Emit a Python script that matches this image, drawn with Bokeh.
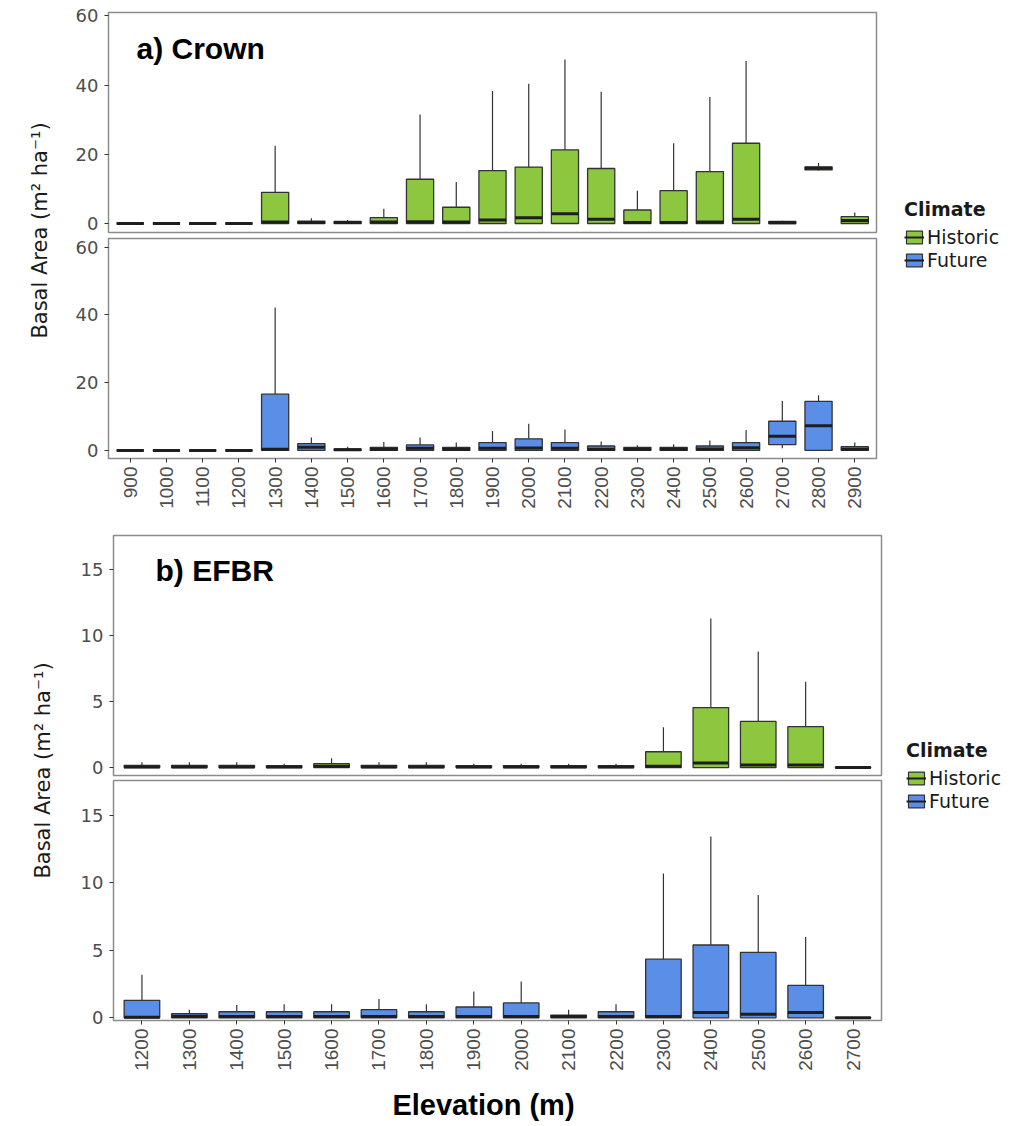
import math
from bokeh.plotting import figure
from bokeh.layouts import row, column
from bokeh.models import ColumnDataSource, Range1d, FixedTicker, Label, Legend, LegendItem
from bokeh.transform import dodge
from bokeh.embed import file_html
from bokeh.resources import INLINE

# ---------------- data ----------------
crown_elev = ["900", "1000", "1100", "1200", "1300", "1400", "1500", "1600", "1700", "1800", "1900",
              "2000", "2100", "2200", "2300", "2400", "2500", "2600", "2700", "2800", "2900"]
crown_hist_low = [0, 0, 0, 0, 0, 0, 0, 0, 0, 0, 0, 0, 0, 0, 0, 0, 0, 0, 0, 15.3, 0]
crown_hist_q1 = [0, 0, 0, 0, 0, 0, 0, 0, 0, 0, 0, 0, 0, 0, 0, 0, 0, 0, 0, 15.5, 0]
crown_hist_med = [0, 0, 0, 0, 0.4, 0.3, 0.3, 0.4, 0.5, 0.4, 1.0, 1.7, 2.8, 1.2, 0.3, 0.3, 0.4, 1.2, 0.2, 16.0, 0.9]
crown_hist_q3 = [0, 0, 0, 0, 9.0, 0.7, 0.6, 1.7, 12.8, 4.7, 15.3, 16.3, 21.3, 15.9, 3.9, 9.5, 15.0, 23.2, 0.6, 16.4, 2.0]
crown_hist_high = [0, 0, 0, 0, 22.5, 1.5, 1.0, 4.3, 31.5, 12.0, 38.3, 40.4, 47.4, 38.1, 9.5, 23.2, 36.6, 47.0, 0.8, 17.5, 3.2]

crown_fut_low = [0, 0, 0, 0, 0, 0, 0, 0, 0, 0, 0, 0, 0, 0, 0, 0, 0, 0, 0.6, 0, 0]
crown_fut_q1 = [0, 0, 0, 0, 0, 0, 0, 0, 0, 0, 0, 0, 0, 0, 0, 0, 0, 0, 1.7, 0, 0]
crown_fut_med = [0, 0, 0, 0, 0.3, 0.9, 0.2, 0.3, 0.6, 0.3, 0.6, 0.7, 0.6, 0.3, 0.3, 0.3, 0.4, 0.8, 4.2, 7.3, 0.3]
crown_fut_q3 = [0, 0, 0, 0, 16.6, 2.0, 0.4, 0.9, 1.6, 0.9, 2.3, 3.4, 2.3, 1.3, 0.9, 0.9, 1.3, 2.3, 8.6, 14.5, 1.1]
crown_fut_high = [0, 0, 0, 0, 42.2, 3.8, 1.1, 2.5, 3.8, 2.3, 5.7, 7.9, 6.2, 2.6, 1.5, 1.8, 2.9, 6.0, 14.6, 16.3, 2.3]

efbr_elev = ["1200", "1300", "1400", "1500", "1600", "1700", "1800", "1900", "2000", "2100",
             "2200", "2300", "2400", "2500", "2600", "2700"]
efbr_hist_low = [0] * 16
efbr_hist_q1 = [0] * 16
efbr_hist_med = [0.05, 0.05, 0.05, 0.05, 0.1, 0.05, 0.05, 0.05, 0.05, 0.05, 0.05, 0.1, 0.35, 0.2, 0.2, 0]
efbr_hist_q3 = [0.17, 0.17, 0.17, 0.15, 0.3, 0.17, 0.17, 0.15, 0.15, 0.15, 0.15, 1.2, 4.55, 3.5, 3.1, 0.02]
efbr_hist_high = [0.4, 0.4, 0.4, 0.3, 0.7, 0.4, 0.4, 0.3, 0.3, 0.3, 0.3, 3.05, 11.3, 8.8, 6.5, 0.05]

efbr_fut_low = [0] * 16
efbr_fut_q1 = [0] * 16
efbr_fut_med = [0.05, 0.1, 0.1, 0.1, 0.1, 0.1, 0.1, 0.1, 0.1, 0.1, 0.1, 0.1, 0.4, 0.27, 0.4, 0]
efbr_fut_q3 = [1.3, 0.3, 0.45, 0.45, 0.45, 0.6, 0.45, 0.8, 1.1, 0.2, 0.45, 4.35, 5.4, 4.85, 2.4, 0.02]
efbr_fut_high = [3.2, 0.6, 0.95, 1.0, 1.0, 1.4, 1.0, 1.95, 2.7, 0.6, 1.0, 10.7, 13.45, 9.1, 6.0, 0.05]

crown_ticks = [0, 20, 40, 60]
efbr_ticks = [0, 5, 10, 15]

HIST = "#8dc63f"
FUT = "#5b8ee6"
EDGE = "#333333"
FONT = "Liberation Sans"
WIDE = "DejaVu Sans"
TICK_COL = "#4d4d4d"


def facet(cats, low, q1, med, q3, high, color, yr, ticks, fw, fh, bl, bt, bb, xaxis):
    n = len(cats)
    xs = list(range(n))
    src = ColumnDataSource(dict(x=xs, low=low, q1=q1, med=med, q3=q3, high=high))
    p = figure(frame_width=fw, frame_height=fh,
               x_range=Range1d(-0.6, n - 0.4), y_range=Range1d(*yr),
               output_backend="svg", toolbar_location=None,
               min_border_left=bl, min_border_right=2, min_border_top=bt, min_border_bottom=bb,
               x_axis_location="below" if xaxis else None)
    p.xgrid.visible = False
    p.ygrid.visible = False
    p.background_fill_color = "white"
    p.border_fill_color = "white"
    p.outline_line_color = "#8c8c8c"
    p.outline_line_width = 1.5
    p.segment(x0="x", y0="q3", x1="x", y1="high", source=src, line_color=EDGE, line_width=1.2)
    p.segment(x0="x", y0="low", x1="x", y1="q1", source=src, line_color=EDGE, line_width=1.2)
    p.vbar(x="x", width=0.75, bottom="q1", top="q3", source=src,
           fill_color=color, line_color=EDGE, line_width=1.3)
    p.segment(x0=dodge("x", -0.375), y0="med", x1=dodge("x", 0.375), y1="med", source=src,
              line_color="#1e1e1e", line_width=3)

    ya = p.yaxis[0]
    ya.ticker = FixedTicker(ticks=ticks)
    ya.axis_line_color = None
    ya.major_tick_line_color = EDGE
    ya.major_tick_in = 0
    ya.major_tick_out = 4
    ya.minor_tick_line_color = None
    ya.major_label_text_font = WIDE
    ya.major_label_text_font_size = "18px"
    ya.major_label_text_color = TICK_COL
    ya.major_label_standoff = 6
    if xaxis:
        xa = p.xaxis[0]
        xa.ticker = FixedTicker(ticks=xs)
        xa.major_label_overrides = {i: c for i, c in enumerate(cats)}
        xa.major_label_orientation = math.pi / 2
        xa.axis_line_color = None
        xa.major_tick_line_color = EDGE
        xa.major_tick_in = 0
        xa.major_tick_out = 4
        xa.minor_tick_line_color = None
        xa.major_label_text_font = FONT
        xa.major_label_text_font_size = "19px"
        xa.major_label_text_color = TICK_COL
        xa.major_label_standoff = 4
    return p


def blank(w, h):
    p = figure(width=w, height=h, x_range=Range1d(0, w), y_range=Range1d(0, h),
               output_backend="svg", toolbar_location=None,
               min_border=0, min_border_left=0, min_border_right=0, min_border_top=0, min_border_bottom=0,
               x_axis_location=None, y_axis_location=None)
    p.outline_line_color = None
    p.xgrid.visible = False
    p.ygrid.visible = False
    p.background_fill_color = "white"
    p.border_fill_color = "white"
    return p


def ylabel_strip(w, h, cx, cy):
    p = blank(w, h)
    p.add_layout(Label(x=cx, y=cy, text="Basal Area (m² ha⁻¹)", angle=math.pi / 2,
                       text_align="center", text_baseline="middle",
                       text_font=WIDE, text_font_size="21px", text_color="#1a1a1a"))
    return p


def legend_fig(w, h, lx, ly):
    p = blank(w, h)
    off = dict(x=[-1000], top=[-999], bottom=[-1000], x0=[-1001], x1=[-999], y=[-1000])
    rh = p.vbar(x="x", top="top", bottom="bottom", width=1, source=ColumnDataSource(off),
                fill_color=HIST, line_color=EDGE, line_width=1.2)
    rhm = p.segment(x0="x0", y0="y", x1="x1", y1="y", source=ColumnDataSource(off),
                    line_color="#1e1e1e", line_width=2)
    rf = p.vbar(x="x", top="top", bottom="bottom", width=1, source=ColumnDataSource(off),
                fill_color=FUT, line_color=EDGE, line_width=1.2)
    rfm = p.segment(x0="x0", y0="y", x1="x1", y1="y", source=ColumnDataSource(off),
                    line_color="#1e1e1e", line_width=2)
    leg = Legend(items=[LegendItem(label="Historic", renderers=[rh, rhm]),
                        LegendItem(label="Future", renderers=[rf, rfm])],
                 location=(lx, ly), title="Climate",
                 title_text_font=WIDE, title_text_font_style="bold", title_text_font_size="19px",
                 title_text_color="#1a1a1a", title_standoff=6,
                 label_text_font=WIDE, label_text_font_size="19px", label_text_color="#1a1a1a",
                 glyph_width=20, glyph_height=16, label_height=20, label_standoff=3,
                 spacing=1, padding=0, margin=0, border_line_color=None, background_fill_alpha=0)
    p.add_layout(leg)
    return p


# ---------------- panel a: Crown ----------------
FW = 768
a_top = facet(crown_elev, crown_hist_low, crown_hist_q1, crown_hist_med, crown_hist_q3, crown_hist_high,
              HIST, (-2.6, 61), crown_ticks, FW, 220, 53, 12, 3, False)
a_bot = facet(crown_elev, crown_fut_low, crown_fut_q1, crown_fut_med, crown_fut_q3, crown_fut_high,
              FUT, (-2.4, 62.6), crown_ticks, FW, 220, 53, 3, 75, True)
a_top.add_layout(Label(x=28, y=184, x_units="screen", y_units="screen", text="a) Crown",
                       text_baseline="middle", text_font=FONT, text_font_style="bold",
                       text_font_size="30px", text_color="black"))

panel_a = row(ylabel_strip(55, 533, 39, 303), column(a_top, a_bot), legend_fig(145, 533, 26, 262))

# ---------------- panel b: EFBR ----------------
b_top = facet(efbr_elev, efbr_hist_low, efbr_hist_q1, efbr_hist_med, efbr_hist_q3, efbr_hist_high,
              HIST, (-0.6, 17.6), efbr_ticks, FW, 240, 55, 2, 4, False)
b_bot = facet(efbr_elev, efbr_fut_low, efbr_fut_q1, efbr_fut_med, efbr_fut_q3, efbr_fut_high,
              FUT, (-0.2, 17.6), efbr_ticks, FW, 240, 55, 1, 60, True)
b_top.add_layout(Label(x=42, y=205, x_units="screen", y_units="screen", text="b) EFBR",
                       text_baseline="middle", text_font=FONT, text_font_style="bold",
                       text_font_size="30px", text_color="black"))

panel_b = row(ylabel_strip(58, 547, 42, 310), column(b_top, b_bot), legend_fig(140, 547, 23, 268))

# ---------------- shared x-axis title ----------------
xtitle = blank(1023, 46)
xtitle.add_layout(Label(x=483, y=22, text="Elevation (m)", text_align="center", text_baseline="middle",
                        text_font=FONT, text_font_style="bold", text_font_size="29px",
                        text_color="black"))

page = column(panel_a, panel_b, xtitle)

open("out.html", "w").write(file_html(page, INLINE))
